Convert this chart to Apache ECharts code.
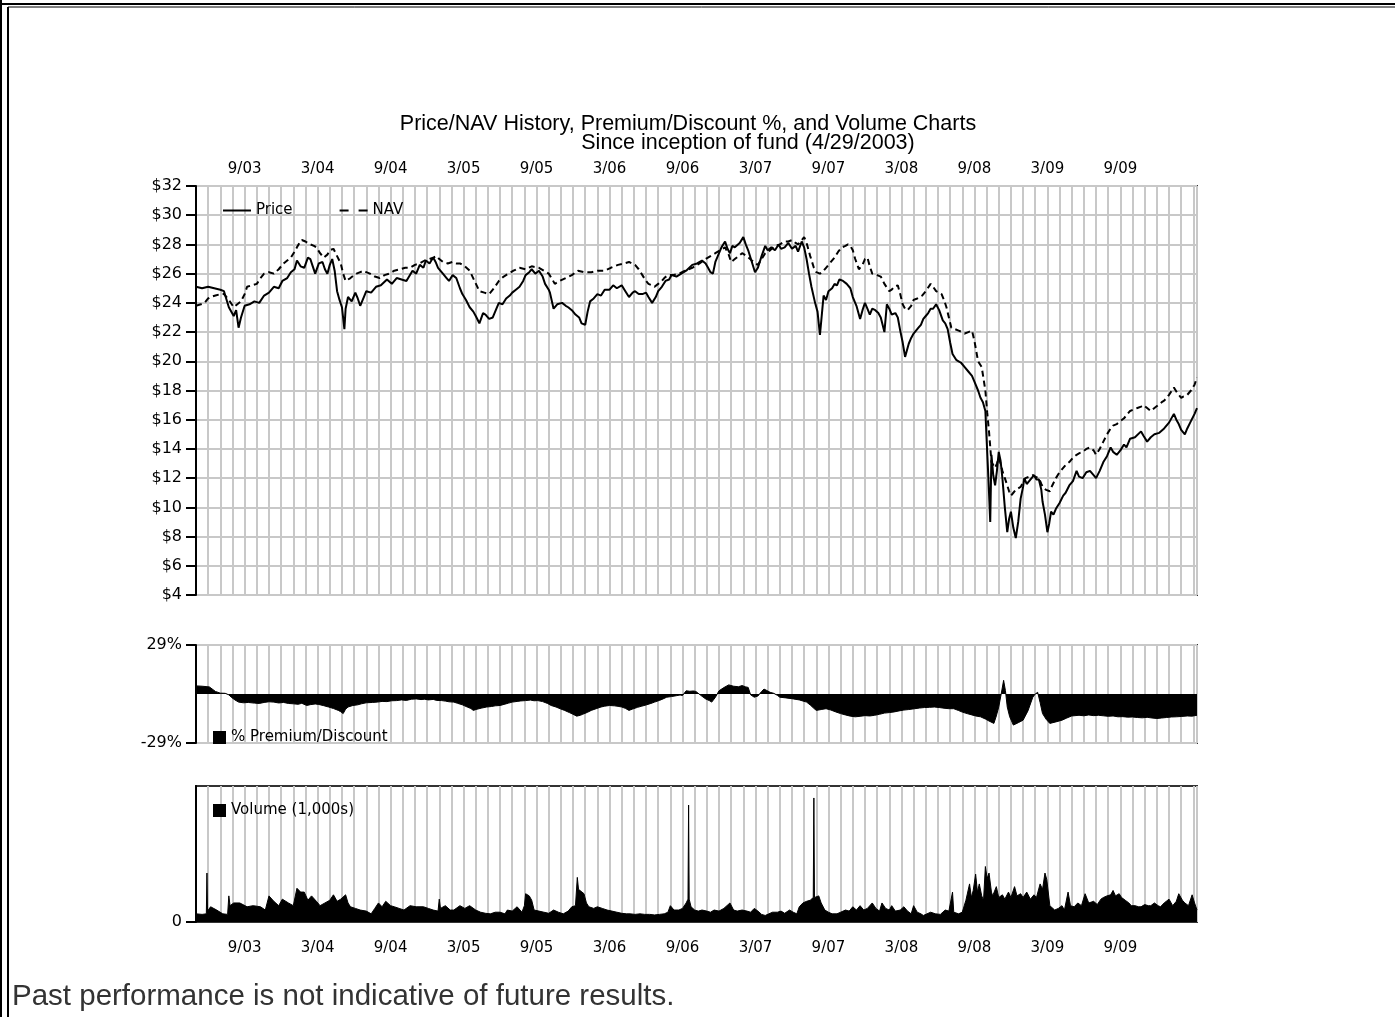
<!DOCTYPE html>
<html>
<head>
<meta charset="utf-8">
<script src="https://cdn.jsdelivr.net/npm/echarts@6/dist/echarts.min.js"></script>
<style>
  html, body { margin: 0; padding: 0; background: #fff; }
  #chart { width: 1395px; height: 1017px; }
</style>
</head>
<body>
<div id="chart"></div>
<script>
// x values are months since 5/1/2003 (fund inception 4/29/2003)
const tickMonths = [4, 10, 16, 22, 28, 34, 40, 46, 52, 58, 64, 70, 76];
const tickLabels = ['9/03', '3/04', '9/04', '3/05', '9/05', '3/06', '9/06', '3/07', '9/07', '3/08', '9/08', '3/09', '9/09'];

const pricePoints = [
  [0, 25.1], [0.5, 25.0], [1.0, 25.1], [1.5, 25.0], [2.0, 24.9], [2.3, 24.8], [2.7, 23.7], [3.1, 23.1], [3.3, 23.5], [3.5, 22.3],
  [3.7, 23.0], [4.0, 23.8], [4.4, 23.9], [4.8, 24.1], [5.2, 24.0], [5.6, 24.5], [6.0, 24.7], [6.4, 25.1], [6.8, 25.0], [7.1, 25.5],
  [7.5, 25.7], [7.8, 26.1], [8.1, 26.3], [8.3, 26.9], [8.6, 26.5], [8.9, 26.4], [9.2, 27.1], [9.4, 27.0], [9.6, 26.5], [9.8, 26.0],
  [10.1, 26.7], [10.4, 26.8], [10.6, 26.3], [10.8, 26.0], [11.0, 26.6], [11.2, 27.0], [11.4, 26.2], [11.6, 24.8], [11.8, 24.2], [12.0, 23.7],
  [12.2, 22.2], [12.3, 23.6], [12.5, 24.4], [12.8, 24.1], [13.1, 24.7], [13.3, 24.3], [13.5, 23.8], [13.8, 24.4], [14.0, 24.8], [14.4, 24.7],
  [14.8, 25.1], [15.2, 25.2], [15.7, 25.6], [16.1, 25.3], [16.5, 25.7], [16.9, 25.6], [17.3, 25.5], [17.8, 26.2], [18.1, 26.0], [18.4, 26.6],
  [18.7, 26.4], [18.9, 26.9], [19.2, 26.7], [19.5, 27.1], [19.7, 26.8], [19.9, 26.4], [20.3, 26.0], [20.6, 25.7], [20.8, 25.5], [21.1, 25.9],
  [21.4, 25.7], [21.7, 25.0], [21.9, 24.6], [22.2, 24.2], [22.5, 23.7], [22.8, 23.4], [23.0, 23.1], [23.3, 22.6], [23.6, 23.3], [23.8, 23.2],
  [24.1, 22.9], [24.4, 23.0], [24.7, 23.6], [24.9, 24.0], [25.2, 23.9], [25.5, 24.3], [25.8, 24.5], [26.0, 24.7], [26.3, 24.9], [26.6, 25.1],
  [26.9, 25.5], [27.1, 25.9], [27.4, 26.1], [27.6, 26.3], [27.9, 26.0], [28.2, 26.2], [28.5, 25.8], [28.7, 25.3], [29.0, 24.9], [29.1, 24.7],
  [29.4, 23.6], [29.7, 23.9], [30.1, 24.0], [30.4, 23.8], [30.6, 23.7], [30.9, 23.5], [31.2, 23.2], [31.5, 23.0], [31.7, 22.6], [32.0, 22.5],
  [32.2, 23.4], [32.4, 24.1], [32.7, 24.3], [33.0, 24.6], [33.3, 24.5], [33.6, 24.9], [34.0, 24.9], [34.3, 25.2], [34.6, 25.0], [35.0, 25.2],
  [35.3, 24.8], [35.6, 24.4], [35.9, 24.7], [36.1, 24.8], [36.4, 24.6], [36.7, 24.6], [37.0, 24.7], [37.2, 24.4], [37.5, 24.0], [37.8, 24.4],
  [38.0, 24.8], [38.3, 25.1], [38.6, 25.5], [38.9, 25.6], [39.1, 25.9], [39.5, 25.8], [39.9, 26.0], [40.3, 26.2], [40.8, 26.6], [41.2, 26.7],
  [41.6, 26.9], [41.9, 26.7], [42.1, 26.4], [42.3, 26.1], [42.5, 26.0], [42.7, 26.8], [42.9, 27.2], [43.2, 27.8], [43.5, 28.2], [43.7, 27.7],
  [43.9, 27.4], [44.1, 27.9], [44.3, 27.8], [44.7, 28.1], [45.0, 28.5], [45.2, 28.0], [45.4, 27.6], [45.7, 26.8], [45.96, 26.1], [46.2, 26.4],
  [46.5, 27.2], [46.8, 27.9], [47.0, 27.6], [47.3, 27.8], [47.6, 27.6], [47.9, 28.0], [48.1, 27.7], [48.4, 27.8], [48.7, 28.1], [49.0, 27.7],
  [49.3, 27.9], [49.5, 27.5], [49.8, 28.2], [50.0, 27.8], [50.2, 27.0], [50.4, 26.0], [50.6, 25.1], [50.9, 24.0], [51.1, 23.4], [51.3, 21.8],
  [51.5, 23.6], [51.6, 24.5], [51.8, 24.2], [52.0, 24.8], [52.3, 25.0], [52.5, 25.3], [52.7, 25.2], [52.9, 25.6], [53.2, 25.5], [53.5, 25.3],
  [53.8, 25.0], [54.0, 24.4], [54.3, 23.8], [54.6, 22.9], [54.8, 23.5], [55.0, 24.0], [55.2, 23.6], [55.4, 23.2], [55.6, 23.6], [55.85, 23.5],
  [56.1, 23.3], [56.3, 23.0], [56.6, 22.0], [56.8, 23.9], [57.0, 23.6], [57.2, 23.2], [57.5, 23.3], [57.7, 23.0], [57.9, 22.1], [58.1, 21.3],
  [58.3, 20.3], [58.6, 21.2], [58.8, 21.6], [59.0, 21.9], [59.2, 22.1], [59.4, 22.3], [59.6, 22.5], [59.8, 22.9], [60.0, 23.1], [60.2, 23.3],
  [60.4, 23.6], [60.6, 23.6], [60.85, 23.9], [61.1, 23.5], [61.4, 22.8], [61.6, 22.6], [61.8, 22.2], [62.0, 21.3], [62.2, 20.5], [62.5, 20.1],
  [62.7, 20.0], [62.9, 19.9], [63.2, 19.6], [63.5, 19.3], [63.8, 19.0], [64.0, 18.6], [64.3, 18.0], [64.5, 17.5], [64.7, 17.2], [64.9, 16.6],
  [65.0, 14.7], [65.15, 12.0], [65.3, 9.0], [65.4, 13.6], [65.55, 12.2], [65.7, 11.5], [65.85, 12.5], [66.0, 13.8], [66.15, 13.2], [66.3, 12.0],
  [66.5, 10.0], [66.7, 8.3], [66.85, 9.2], [67.0, 9.7], [67.2, 8.6], [67.4, 7.9], [67.6, 9.0], [67.8, 10.6], [68.0, 11.4], [68.1, 12.0],
  [68.3, 11.6], [68.5, 11.8], [68.7, 12.0], [68.9, 12.2], [69.1, 11.9], [69.3, 11.9], [69.5, 11.2], [69.6, 10.4], [69.8, 9.5], [70.0, 8.3],
  [70.15, 8.9], [70.3, 9.7], [70.5, 9.5], [70.7, 9.9], [71.0, 10.3], [71.3, 10.8], [71.5, 11.0], [71.8, 11.5], [72.1, 11.8], [72.4, 12.5],
  [72.6, 12.1], [72.9, 12.0], [73.2, 12.4], [73.5, 12.5], [73.8, 12.2], [74.0, 12.0], [74.3, 12.5], [74.6, 13.1], [74.9, 13.5], [75.2, 14.1],
  [75.4, 13.8], [75.7, 13.6], [76.0, 13.9], [76.3, 14.3], [76.5, 14.1], [76.8, 14.7], [77.2, 14.8], [77.7, 15.2], [77.9, 14.9], [78.2, 14.5],
  [78.5, 14.8], [78.8, 15.0], [79.2, 15.1], [79.6, 15.4], [80.0, 15.8], [80.4, 16.4], [80.6, 16.0], [80.8, 15.7], [81.0, 15.3], [81.3, 15.0],
  [81.5, 15.4], [81.8, 15.9], [82.1, 16.4], [82.3, 16.8]
];

const navPoints = [
  [0, 23.8], [0.4, 23.9], [0.7, 24.0], [1.0, 24.3], [1.2, 24.4], [1.6, 24.5], [2.0, 24.6], [2.3, 24.6], [2.7, 24.2], [3.1, 23.7],
  [3.4, 23.9], [3.7, 24.1], [4.0, 24.6], [4.2, 25.1], [4.6, 25.2], [5.0, 25.3], [5.3, 25.7], [5.6, 26.0], [6.0, 26.1], [6.4, 26.0],
  [6.8, 26.3], [7.2, 26.7], [7.5, 26.9], [7.8, 27.1], [8.1, 27.5], [8.3, 27.8], [8.5, 28.1], [8.7, 28.3], [9.0, 28.2], [9.4, 28.0],
  [9.7, 27.9], [9.9, 27.8], [10.2, 27.4], [10.5, 27.1], [10.8, 27.3], [11.0, 27.6], [11.3, 27.7], [11.6, 27.2], [11.9, 26.7], [12.1, 26.0],
  [12.3, 25.5], [12.5, 25.6], [12.7, 25.7], [13.0, 25.9], [13.2, 26.0], [13.5, 26.1], [13.8, 26.2], [14.0, 26.1], [14.3, 26.0], [14.7, 25.8],
  [15.1, 25.7], [15.5, 25.9], [15.9, 26.0], [16.3, 26.2], [16.8, 26.3], [17.2, 26.4], [17.6, 26.4], [18.0, 26.6], [18.4, 26.7], [18.8, 26.9],
  [19.2, 27.0], [19.5, 27.1], [19.8, 27.2], [20.0, 27.0], [20.3, 26.8], [20.7, 26.7], [21.1, 26.8], [21.4, 26.7], [21.7, 26.7], [22.1, 26.5],
  [22.5, 26.2], [22.9, 25.5], [23.3, 24.8], [23.7, 24.7], [24.1, 24.6], [24.5, 25.0], [24.9, 25.5], [25.3, 25.8], [25.7, 26.0], [26.1, 26.2],
  [26.6, 26.4], [27.1, 26.3], [27.6, 26.5], [28.2, 26.4], [28.6, 26.2], [29.0, 26.0], [29.3, 25.6], [29.5, 25.3], [29.9, 25.5], [30.4, 25.7],
  [30.9, 25.9], [31.4, 26.2], [31.9, 26.1], [32.5, 26.1], [33.0, 26.2], [33.6, 26.2], [34.1, 26.4], [34.7, 26.6], [35.2, 26.7], [35.6, 26.8],
  [36.1, 26.6], [36.4, 26.3], [36.7, 25.9], [37.0, 25.5], [37.2, 25.3], [37.5, 25.2], [37.7, 25.1], [38.0, 25.3], [38.3, 25.5], [38.5, 25.7],
  [38.8, 25.9], [39.2, 25.9], [39.7, 26.0], [40.2, 26.2], [40.8, 26.4], [41.4, 26.7], [41.9, 27.0], [42.3, 27.2], [42.7, 27.4], [43.1, 27.6],
  [43.5, 27.8], [43.8, 27.3], [44.0, 26.8], [44.3, 27.0], [44.6, 27.2], [44.9, 27.4], [45.3, 27.2], [45.7, 26.9], [46.0, 26.7], [46.2, 26.6],
  [46.5, 27.0], [46.8, 27.4], [47.2, 27.6], [47.6, 27.9], [48.0, 28.0], [48.4, 28.2], [48.7, 28.2], [49.0, 28.3], [49.3, 28.1], [49.5, 28.0],
  [49.8, 28.3], [50.0, 28.5], [50.2, 28.1], [50.3, 27.8], [50.5, 27.2], [50.8, 26.4], [51.0, 26.1], [51.3, 26.0], [51.6, 26.2], [51.8, 26.4],
  [52.1, 26.7], [52.5, 27.1], [52.8, 27.5], [53.1, 27.8], [53.4, 27.9], [53.6, 28.0], [53.8, 27.9], [54.0, 27.6], [54.2, 27.0], [54.5, 26.3],
  [54.8, 26.6], [55.0, 27.0], [55.2, 27.1], [55.4, 26.5], [55.6, 26.0], [56.0, 25.9], [56.3, 25.8], [56.6, 25.3], [57.0, 24.8], [57.2, 24.9],
  [57.4, 25.1], [57.7, 25.2], [57.9, 24.6], [58.1, 23.9], [58.3, 23.6], [58.5, 23.5], [58.8, 23.8], [59.0, 24.2], [59.3, 24.3], [59.7, 24.5],
  [60.0, 24.8], [60.4, 25.3], [60.6, 25.1], [60.85, 24.8], [61.1, 24.7], [61.3, 24.6], [61.5, 24.2], [61.7, 23.7], [61.9, 23.0], [62.1, 22.3],
  [62.4, 22.2], [62.7, 22.1], [63.0, 22.0], [63.2, 21.9], [63.5, 22.0], [63.8, 22.1], [64.0, 21.4], [64.3, 20.0], [64.6, 19.6], [64.9, 18.0],
  [65.05, 16.5], [65.2, 15.2], [65.4, 13.1], [65.55, 12.9], [65.7, 12.7], [65.85, 13.0], [66.0, 13.4], [66.15, 13.0], [66.3, 12.5], [66.5, 12.0],
  [66.7, 11.5], [66.85, 11.1], [67.0, 10.8], [67.2, 11.0], [67.4, 11.2], [67.6, 11.3], [67.8, 11.4], [68.0, 11.7], [68.2, 12.0], [68.5, 12.1],
  [68.8, 12.2], [69.0, 12.1], [69.3, 12.0], [69.5, 11.6], [69.7, 11.3], [69.9, 11.2], [70.2, 11.1], [70.4, 11.5], [70.7, 12.0], [71.0, 12.4],
  [71.3, 12.7], [71.5, 12.9], [71.8, 13.1], [72.1, 13.4], [72.4, 13.6], [72.6, 13.7], [72.9, 13.8], [73.2, 14.0], [73.5, 14.1], [73.8, 13.9],
  [74.0, 13.6], [74.3, 14.0], [74.6, 14.5], [74.9, 15.0], [75.2, 15.4], [75.4, 15.6], [75.7, 15.7], [76.0, 15.9], [76.3, 16.1], [76.6, 16.4],
  [76.8, 16.6], [77.1, 16.7], [77.4, 16.8], [77.7, 16.9], [77.9, 17.0], [78.2, 16.8], [78.5, 16.6], [78.8, 16.8], [79.1, 17.0], [79.4, 17.2],
  [79.6, 17.3], [80.0, 17.7], [80.4, 18.2], [80.7, 17.8], [81.0, 17.5], [81.2, 17.6], [81.5, 17.7], [81.8, 18.0], [82.1, 18.4], [82.3, 18.9]
];

const premiumPoints = [
  [0, 4.8], [0.5, 4.6], [1.1, 4.2], [1.6, 1.5], [2.0, 0.5], [2.4, 0.4], [2.7, -0.5], [2.9, -1.9], [3.2, -3.5], [3.5, -4.8],
  [3.9, -5.2], [4.3, -5.0], [4.8, -5.4], [5.2, -5.6], [5.6, -5.0], [6.0, -4.6], [6.4, -4.8], [6.8, -5.3], [7.2, -5.0], [7.6, -5.6],
  [8.0, -5.8], [8.4, -6.1], [8.7, -5.5], [9.1, -6.8], [9.4, -6.3], [9.8, -5.9], [10.1, -6.2], [10.5, -6.9], [10.9, -7.7], [11.3, -8.6],
  [11.7, -9.7], [11.9, -10.5], [12.1, -11.6], [12.3, -9.0], [12.5, -7.7], [12.9, -6.8], [13.3, -6.4], [13.6, -5.8], [14.0, -5.2], [14.5, -5.0],
  [14.9, -4.8], [15.3, -4.4], [15.7, -4.5], [16.1, -4.0], [16.5, -3.9], [16.9, -3.5], [17.3, -3.8], [17.7, -3.1], [18.1, -2.9], [18.5, -3.3],
  [18.8, -3.1], [19.1, -3.5], [19.5, -3.2], [19.8, -3.8], [20.2, -3.9], [20.5, -4.2], [20.8, -4.6], [21.2, -4.8], [21.5, -5.5], [21.9, -6.4],
  [22.3, -7.7], [22.6, -8.6], [22.8, -9.7], [23.1, -9.0], [23.5, -8.3], [23.9, -7.7], [24.3, -7.4], [24.6, -7.0], [25.0, -6.8], [25.4, -6.0],
  [25.7, -5.4], [26.0, -4.8], [26.4, -4.4], [26.7, -4.1], [27.1, -3.9], [27.5, -3.6], [27.8, -4.0], [28.1, -3.9], [28.5, -4.5], [28.9, -5.6],
  [29.2, -6.8], [29.6, -7.7], [30.0, -8.9], [30.3, -9.7], [30.7, -11.0], [31.0, -12.0], [31.3, -13.1], [31.6, -12.6], [31.8, -12.0], [32.2, -10.8],
  [32.5, -9.7], [32.9, -8.7], [33.3, -7.7], [33.6, -7.2], [34.0, -6.8], [34.4, -7.0], [34.7, -7.3], [35.0, -7.7], [35.3, -8.5], [35.6, -9.7],
  [35.9, -8.9], [36.3, -7.9], [36.6, -7.3], [37.0, -6.5], [37.4, -5.6], [37.7, -4.8], [38.1, -3.8], [38.4, -2.9], [38.7, -1.9], [39.1, -1.5],
  [39.5, -1.0], [39.8, -0.6], [40.0, -0.9], [40.3, 1.9], [40.6, 1.6], [40.9, 1.8], [41.1, 1.5], [41.5, -0.8], [41.9, -2.9], [42.2, -3.9],
  [42.4, -4.8], [42.7, -2.0], [43.0, 1.9], [43.4, 3.8], [43.8, 5.4], [44.2, 4.6], [44.6, 4.3], [44.9, 5.0], [45.2, 4.2], [45.4, 3.9],
  [45.6, -0.5], [45.9, -1.9], [46.2, -1.2], [46.5, 1.5], [46.7, 2.9], [46.9, 2.2], [47.2, 1.0], [47.5, 0.4], [47.8, -0.8], [48.0, -1.9],
  [48.5, -2.3], [49.1, -2.9], [49.6, -3.5], [50.2, -4.8], [50.5, -6.5], [50.8, -8.5], [51.0, -9.7], [51.4, -9.2], [51.8, -8.7], [52.2, -9.5],
  [52.6, -10.6], [53.0, -11.6], [53.4, -12.4], [53.8, -13.1], [54.2, -13.5], [54.6, -13.2], [55.0, -12.8], [55.4, -13.0], [55.8, -12.6], [56.2, -12.0],
  [56.6, -11.3], [57.0, -11.0], [57.4, -10.6], [57.8, -10.0], [58.2, -9.5], [58.6, -9.2], [59.1, -8.7], [59.5, -8.3], [59.9, -8.0], [60.3, -7.9],
  [60.7, -7.7], [61.1, -8.0], [61.5, -8.4], [61.9, -8.7], [62.3, -8.7], [62.7, -9.8], [63.0, -10.7], [63.4, -11.6], [63.8, -12.4], [64.1, -13.0],
  [64.5, -13.5], [64.9, -14.8], [65.2, -16.0], [65.6, -17.4], [65.8, -13.0], [66.0, -7.7], [66.2, 0.0], [66.4, 8.1], [66.55, 2.0], [66.7, -7.7],
  [66.9, -13.5], [67.2, -18.4], [67.6, -17.0], [68.0, -15.5], [68.4, -10.0], [68.8, -1.9], [69.0, 0.0], [69.2, 1.0], [69.4, -5.0], [69.6, -11.6],
  [69.9, -15.0], [70.2, -17.4], [70.7, -16.5], [71.2, -15.5], [71.6, -14.2], [72.0, -13.0], [72.6, -12.6], [73.0, -12.9], [73.4, -12.4], [73.8, -12.8],
  [74.2, -12.6], [74.6, -12.9], [75.0, -13.2], [75.4, -13.0], [75.8, -13.5], [76.2, -13.4], [76.6, -13.7], [77.0, -13.6], [77.4, -13.9], [77.8, -14.1],
  [78.2, -13.8], [78.6, -14.2], [79.0, -14.5], [79.4, -14.2], [79.8, -13.9], [80.2, -13.6], [80.6, -13.5], [81.0, -13.3], [81.5, -13.0], [81.9, -13.1],
  [82.3, -12.6]
];

// volume in 1,000s of shares
const volumePoints = [
  [0, 15], [0.5, 14], [0.85, 15], [0.9, 90], [0.95, 20], [1.2, 28], [1.7, 22], [2.2, 15], [2.6, 14], [2.7, 48],
  [2.8, 30], [3.1, 35], [3.6, 35], [4.2, 28], [4.7, 30], [5.3, 28], [5.7, 22], [6.0, 48], [6.4, 38], [6.8, 30],
  [7.1, 42], [7.6, 35], [8.0, 30], [8.3, 62], [8.6, 55], [8.9, 55], [9.2, 40], [9.5, 48], [9.9, 38], [10.2, 30],
  [10.6, 35], [11.0, 40], [11.3, 50], [11.6, 38], [11.9, 42], [12.3, 50], [12.5, 35], [12.7, 28], [13.1, 25], [13.5, 22],
  [14.0, 20], [14.4, 15], [14.7, 25], [15.0, 35], [15.3, 28], [15.6, 38], [16.0, 30], [16.3, 28], [16.7, 25], [17.1, 22],
  [17.6, 30], [18.1, 28], [18.7, 28], [19.1, 25], [19.5, 22], [19.9, 20], [20.0, 42], [20.1, 25], [20.5, 30], [20.9, 22],
  [21.2, 22], [21.7, 30], [22.1, 25], [22.5, 30], [23.0, 22], [23.4, 18], [23.8, 16], [24.2, 15], [24.6, 18], [25.0, 18],
  [25.4, 15], [25.6, 22], [26.0, 20], [26.4, 28], [26.8, 18], [27.0, 30], [27.1, 52], [27.4, 48], [27.6, 40], [27.8, 22],
  [28.2, 20], [28.6, 18], [29.0, 16], [29.4, 22], [29.8, 18], [30.2, 15], [30.6, 20], [30.9, 28], [31.2, 30], [31.35, 82],
  [31.45, 60], [31.6, 58], [31.9, 52], [32.1, 35], [32.3, 28], [32.7, 25], [33.0, 28], [33.4, 25], [33.8, 22], [34.2, 20],
  [34.6, 18], [35.0, 16], [35.4, 15], [35.7, 15], [36.1, 14], [36.5, 15], [36.9, 14], [37.3, 14], [37.7, 13], [38.1, 14],
  [38.5, 15], [38.8, 18], [39.0, 30], [39.3, 22], [39.7, 22], [40.0, 25], [40.3, 35], [40.45, 42], [40.5, 215], [40.55, 42],
  [40.7, 28], [41.0, 22], [41.3, 20], [41.6, 22], [42.0, 20], [42.3, 18], [42.6, 22], [43.0, 20], [43.4, 25], [43.9, 35],
  [44.2, 22], [44.5, 20], [44.9, 22], [45.3, 20], [45.6, 18], [45.9, 25], [46.2, 20], [46.5, 14], [46.8, 12], [47.1, 15],
  [47.4, 18], [47.8, 18], [48.1, 20], [48.4, 16], [48.8, 22], [49.1, 18], [49.4, 15], [49.6, 28], [49.9, 35], [50.2, 38],
  [50.5, 40], [50.75, 45], [50.8, 228], [50.85, 45], [51.0, 42], [51.2, 48], [51.4, 35], [51.7, 22], [52.0, 18], [52.3, 15],
  [52.7, 15], [53.0, 18], [53.4, 22], [53.7, 20], [54.0, 28], [54.3, 22], [54.6, 30], [54.9, 22], [55.2, 25], [55.6, 35],
  [55.9, 25], [56.2, 20], [56.4, 35], [56.7, 25], [57.0, 22], [57.2, 30], [57.5, 20], [57.9, 22], [58.2, 28], [58.5, 20],
  [58.8, 15], [59.0, 30], [59.3, 18], [59.6, 15], [59.8, 12], [60.1, 15], [60.4, 18], [60.8, 15], [61.2, 14], [61.6, 22],
  [61.9, 20], [62.2, 55], [62.3, 18], [62.7, 15], [63.0, 18], [63.3, 40], [63.6, 70], [63.75, 45], [63.9, 58], [64.1, 88],
  [64.25, 55], [64.4, 70], [64.6, 48], [64.75, 40], [64.9, 102], [65.05, 80], [65.2, 90], [65.4, 55], [65.5, 48], [65.8, 65],
  [66.0, 45], [66.3, 50], [66.5, 42], [66.8, 55], [67.0, 45], [67.3, 65], [67.5, 48], [67.8, 52], [68.0, 45], [68.3, 55],
  [68.6, 42], [68.9, 50], [69.1, 45], [69.4, 70], [69.6, 60], [69.8, 90], [69.95, 78], [70.1, 75], [70.2, 30], [70.3, 28],
  [70.6, 22], [70.9, 25], [71.2, 30], [71.4, 22], [71.7, 55], [71.9, 30], [72.2, 28], [72.5, 35], [72.8, 30], [73.1, 52],
  [73.4, 35], [73.8, 38], [74.1, 32], [74.4, 42], [74.6, 45], [74.9, 48], [75.2, 50], [75.4, 58], [75.6, 48], [75.9, 52],
  [76.1, 45], [76.4, 40], [76.7, 35], [76.9, 30], [77.2, 30], [77.5, 28], [77.7, 28], [78.0, 32], [78.3, 30], [78.5, 30],
  [78.8, 35], [79.1, 30], [79.3, 28], [79.6, 35], [80.0, 42], [80.3, 30], [80.6, 38], [80.8, 52], [81.1, 40], [81.3, 35],
  [81.6, 30], [81.9, 50], [82.1, 35], [82.3, 22]
];

const FONT = '"DejaVu Sans", Verdana, sans-serif';
const TITLE_FONT = '21.5px "Liberation Sans", Arial, sans-serif';
const GRID_GRAY = '#c8c8c8';
const X_MAX = 82.3;

function monthAxis(gridIndex, position, showLabels, margin) {
  return {
    type: 'value', gridIndex, position, min: 0, max: X_MAX, interval: 1,
    axisLine: { show: false },
    axisTick: { show: false },
    axisLabel: showLabels ? {
      customValues: tickMonths,
      formatter: v => tickLabels[tickMonths.indexOf(v)] || '',
      margin, color: '#000', fontSize: 15, fontFamily: FONT
    } : { show: false },
    splitLine: { show: true, lineStyle: { color: GRID_GRAY, width: 2 } }
  };
}

const leftAxisLine = { show: true, lineStyle: { color: '#000', width: 2 } };
const leftTick = { show: true, length: 10, lineStyle: { color: '#000', width: 2 } };
const leftLabel = { color: '#000', fontSize: 16, fontFamily: FONT, margin: 14 };
const frame = { show: true, borderColor: '#333', borderWidth: 2 };
const legendText = { color: '#000', fontSize: 15, fontFamily: FONT };

const chart = echarts.init(document.getElementById('chart'));
chart.setOption({
  animation: false,
  backgroundColor: '#fff',
  grid: [
    Object.assign({ left: 196, top: 186, width: 1001, height: 409 }, frame),
    Object.assign({ left: 196, top: 645, width: 1001, height: 98 }, frame),
    Object.assign({ left: 196, top: 786, width: 1001, height: 136 }, frame)
  ],
  xAxis: [
    monthAxis(0, 'top', true, 9),
    monthAxis(1, 'bottom', false, 0),
    monthAxis(2, 'bottom', true, 19)
  ],
  yAxis: [
    {
      type: 'value', gridIndex: 0, min: 4, max: 32, interval: 2,
      axisLine: leftAxisLine, axisTick: leftTick,
      axisLabel: Object.assign({ formatter: v => '$' + v }, leftLabel),
      splitLine: { show: true, lineStyle: { color: GRID_GRAY, width: 2 } }
    },
    {
      type: 'value', gridIndex: 1, min: -29, max: 29, interval: 29,
      axisLine: leftAxisLine,
      axisTick: Object.assign({ customValues: [-29, 29] }, leftTick),
      axisLabel: Object.assign({ customValues: [-29, 29], formatter: v => v + '%' }, leftLabel),
      splitLine: { show: true, lineStyle: { color: GRID_GRAY, width: 2 } }
    },
    {
      type: 'value', gridIndex: 2, min: 0, max: 250, interval: 250,
      axisLine: leftAxisLine,
      axisTick: Object.assign({ customValues: [0] }, leftTick),
      axisLabel: Object.assign({ customValues: [0], formatter: v => String(v) }, leftLabel),
      splitLine: { show: false }
    }
  ],
  legend: [
    {
      data: [
        { name: 'Price', icon: 'path://M0,0H28V2H0Z' },
        { name: 'NAV', icon: 'path://M0,0H9V2H0ZM19,0H28V2H19Z' }
      ],
      left: 218, top: 198, itemWidth: 28, itemHeight: 2, itemGap: 47,
      selectedMode: false, textStyle: legendText
    },
    {
      data: ['% Premium/Discount'], left: 208, top: 725, icon: 'rect', itemWidth: 13, itemHeight: 13,
      selectedMode: false, textStyle: legendText
    },
    {
      data: ['Volume (1,000s)'], left: 208, top: 798, icon: 'rect', itemWidth: 13, itemHeight: 13,
      selectedMode: false, textStyle: legendText
    }
  ],
  series: [
    {
      name: 'Price', type: 'line', xAxisIndex: 0, yAxisIndex: 0, data: pricePoints,
      symbol: 'none', color: '#000', lineStyle: { color: '#000', width: 2 }
    },
    {
      name: 'NAV', type: 'line', xAxisIndex: 0, yAxisIndex: 0, data: navPoints,
      symbol: 'none', color: '#000', lineStyle: { color: '#000', width: 2, type: [6, 4] }
    },
    {
      name: '% Premium/Discount', type: 'line', xAxisIndex: 1, yAxisIndex: 1, data: premiumPoints,
      symbol: 'none', color: '#000', lineStyle: { color: '#000', width: 1 },
      areaStyle: { color: '#000', opacity: 1 }
    },
    {
      name: 'Volume (1,000s)', type: 'line', xAxisIndex: 2, yAxisIndex: 2, data: volumePoints,
      symbol: 'none', color: '#000', lineStyle: { color: '#000', width: 1 },
      areaStyle: { color: '#000', opacity: 1 }
    }
  ],
  graphic: [
    // page frame (double rule at left and top)
    { type: 'line', shape: { x1: 1, y1: 0, x2: 1, y2: 1017 }, style: { stroke: '#000', lineWidth: 2 } },
    { type: 'line', shape: { x1: 8, y1: 7, x2: 8, y2: 1017 }, style: { stroke: '#000', lineWidth: 2 } },
    { type: 'line', shape: { x1: 1, y1: 4, x2: 1395, y2: 4 }, style: { stroke: '#000', lineWidth: 2 } },
    { type: 'line', shape: { x1: 8, y1: 7, x2: 1395, y2: 7 }, style: { stroke: '#000', lineWidth: 1 } },
    {
      type: 'text', x: 688, y: 124,
      style: { text: 'Price/NAV History, Premium/Discount %, and Volume Charts', font: TITLE_FONT, fill: '#000', textAlign: 'center', textVerticalAlign: 'middle' }
    },
    {
      type: 'text', x: 748, y: 143,
      style: { text: 'Since inception of fund (4/29/2003)', font: TITLE_FONT, fill: '#000', textAlign: 'center', textVerticalAlign: 'middle' }
    },
    {
      type: 'text', x: 12, y: 997,
      style: { text: 'Past performance is not indicative of future results.', font: '29.5px "Liberation Sans", Arial, sans-serif', fill: '#333', textAlign: 'left', textVerticalAlign: 'middle' }
    }
  ]
});
</script>
</body>
</html>
